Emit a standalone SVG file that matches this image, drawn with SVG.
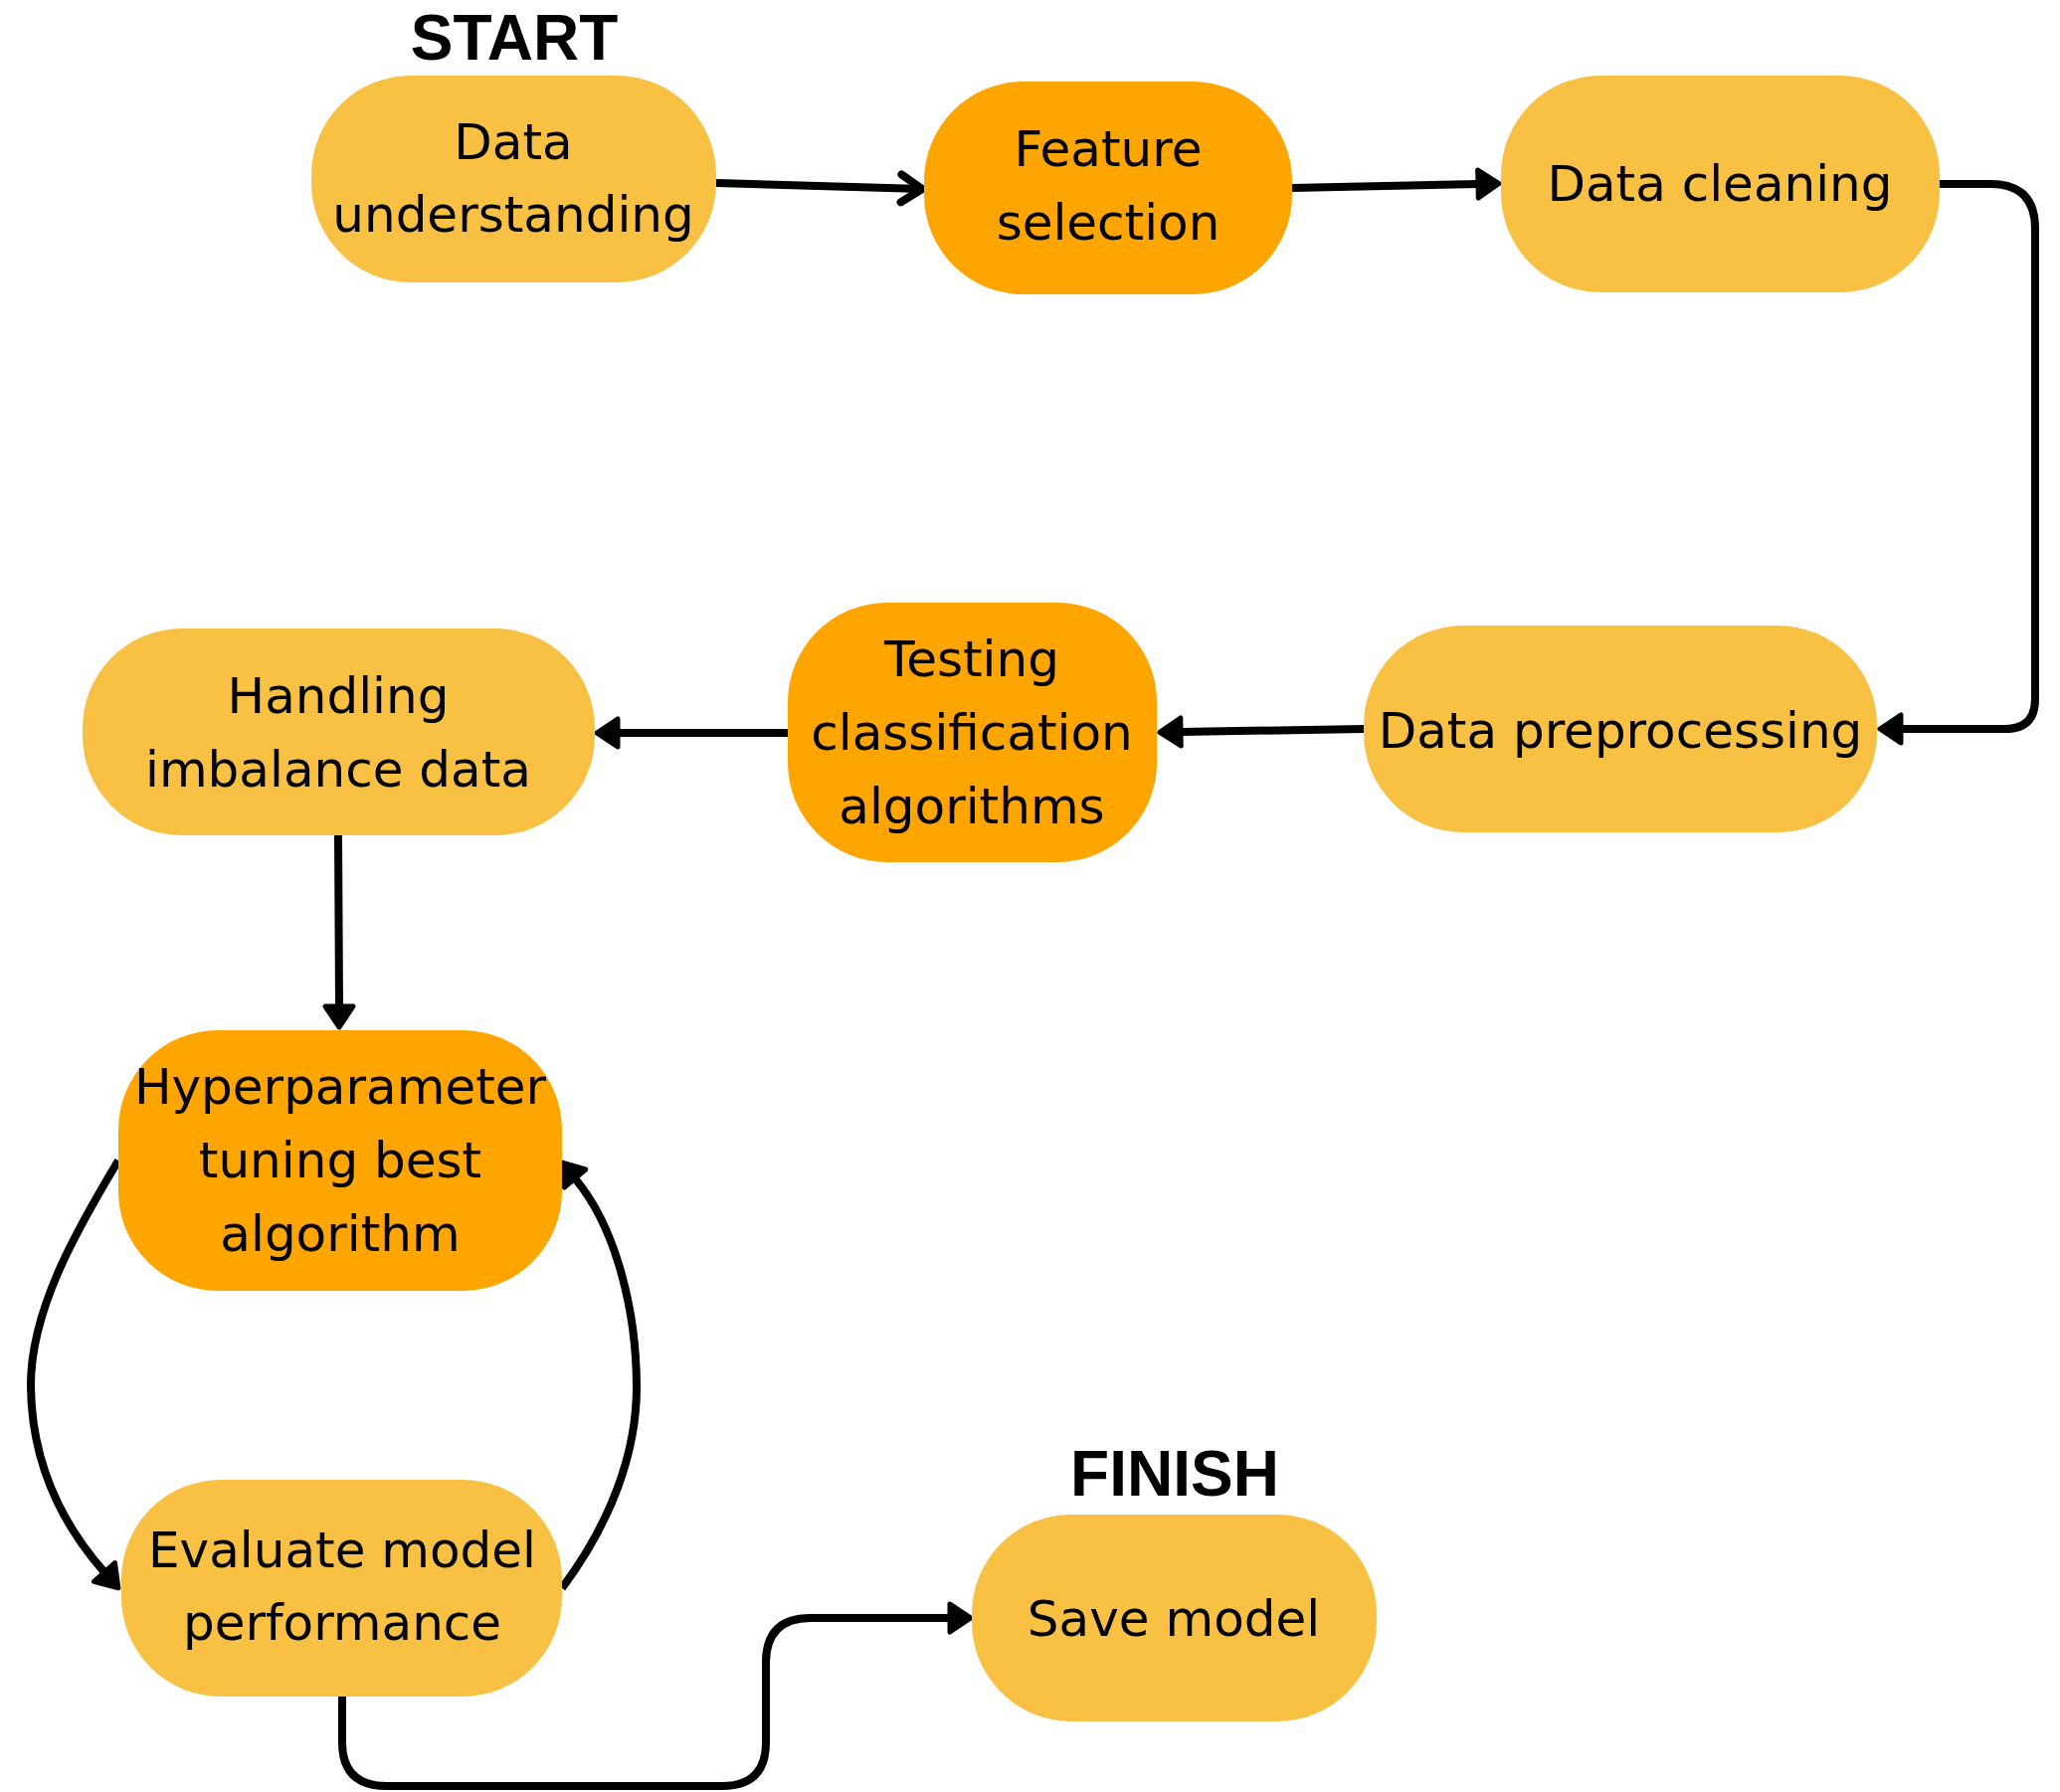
<svg xmlns="http://www.w3.org/2000/svg" width="2071" height="1802" viewBox="0 0 2071 1802">
<style>
.light{fill:#F9C143}
.dark{fill:#FFA500}
.lbl{font-family:"DejaVu Sans","Liberation Sans",sans-serif;font-size:50px;fill:#000;text-anchor:middle}
.title{font-family:"Liberation Sans",Arial,sans-serif;font-weight:bold;font-size:64px;fill:#000;text-anchor:middle}
.conn{fill:none;stroke:#000;stroke-width:8;stroke-linejoin:round}
</style>
<defs>
<marker id="tri" markerUnits="userSpaceOnUse" markerWidth="40" markerHeight="40" refX="0" refY="0" orient="auto" overflow="visible">
<path d="M0,-14 L21,0 L0,14 Z" fill="#000" stroke="#000" stroke-width="5" stroke-linejoin="round"/>
</marker>
<marker id="chev" markerUnits="userSpaceOnUse" markerWidth="40" markerHeight="40" refX="0" refY="0" orient="auto" overflow="visible">
<path d="M-21,-14 L0,0 L-21,14" fill="none" stroke="#000" stroke-width="8" stroke-linecap="round" stroke-linejoin="round"/>
</marker>
</defs>
<rect width="2071" height="1802" fill="#fff"/>
<text class="title" x="517" y="60">START</text>
<text class="title" x="1181" y="1504">FINISH</text>
<g id="connectors">
<path class="conn" d="M720,184 L927,190" marker-end="url(#chev)"/>
<path class="conn" d="M1299,189 L1486,185" marker-end="url(#tri)"/>
<path class="conn" d="M1950,185 L2001,185 Q2046,185 2046,230 L2046,703 Q2046,733 2016,733 L1911,733" marker-end="url(#tri)"/>
<path class="conn" d="M1371,733 L1187,736" marker-end="url(#tri)"/>
<path class="conn" d="M792,737 L621,737" marker-end="url(#tri)"/>
<path class="conn" d="M340,840 L341,1012" marker-end="url(#tri)"/>
<path class="conn" d="M119,1167 C75,1240 30,1320 31,1395 C32,1470 60,1530 105,1581" marker-end="url(#tri)"/>
<path class="conn" d="M565,1597 C615,1530 640,1460 640,1395 C640,1320 620,1235 578,1185" marker-end="url(#tri)"/>
<path class="conn" d="M344,1706 L344,1752 Q344,1796 389,1796 L726,1796 Q770,1796 770,1752 L770,1672 Q770,1627 815,1627 L955,1627" marker-end="url(#tri)"/>
</g>
<g id="n1"><rect class="light" x="313" y="76" width="407" height="208" rx="100" ry="100"/>
<text class="lbl" x="516" y="160">Data</text><text class="lbl" x="516" y="233">understanding</text></g>
<g id="n2"><rect class="dark" x="929" y="82" width="370" height="214" rx="100" ry="100"/>
<text class="lbl" x="1114" y="167">Feature</text><text class="lbl" x="1114" y="241">selection</text></g>
<g id="n3"><rect class="light" x="1509" y="76" width="441" height="218" rx="100" ry="100"/>
<text class="lbl" x="1729" y="202">Data cleaning</text></g>
<g id="n4"><rect class="light" x="1371" y="629" width="516" height="208" rx="100" ry="100"/>
<text class="lbl" x="1629" y="752">Data preprocessing</text></g>
<g id="n5"><rect class="dark" x="792" y="606" width="371" height="261" rx="100" ry="100"/>
<text class="lbl" x="977" y="680">Testing</text><text class="lbl" x="977" y="754">classification</text><text class="lbl" x="977" y="828">algorithms</text></g>
<g id="n6"><rect class="light" x="83" y="632" width="515" height="208" rx="100" ry="100"/>
<text class="lbl" x="340" y="717">Handling</text><text class="lbl" x="340" y="791">imbalance data</text></g>
<g id="n7"><rect class="dark" x="119" y="1036" width="446" height="262" rx="100" ry="100"/>
<text class="lbl" x="342" y="1110">Hyperparameter</text><text class="lbl" x="342" y="1184">tuning best</text><text class="lbl" x="342" y="1258">algorithm</text></g>
<g id="n8"><rect class="light" x="122" y="1488" width="443" height="218" rx="100" ry="100"/>
<text class="lbl" x="344" y="1576">Evaluate model</text><text class="lbl" x="344" y="1649">performance</text></g>
<g id="n9"><rect class="light" x="977" y="1523" width="407" height="208" rx="100" ry="100"/>
<text class="lbl" x="1180" y="1645">Save model</text></g>
</svg>
